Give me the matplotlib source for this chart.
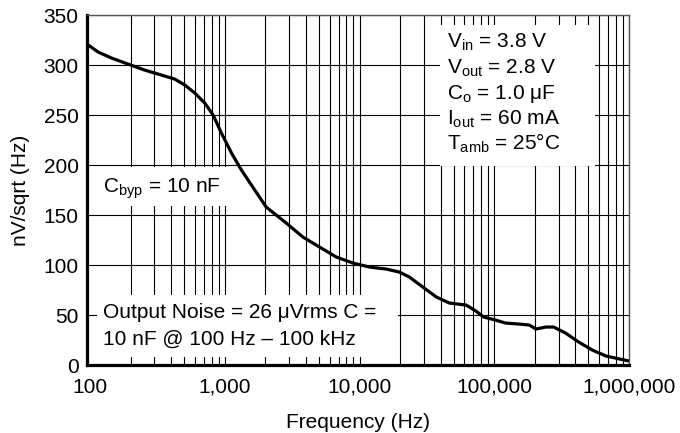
import matplotlib.pyplot as plt
from matplotlib.patches import Rectangle
from matplotlib.ticker import FixedLocator, NullFormatter

plt.rcParams['font.family'] = ['Liberation Sans', 'DejaVu Sans']
plt.rcParams['mathtext.fontset'] = 'custom'
plt.rcParams['mathtext.rm'] = 'Liberation Sans'
plt.rcParams['mathtext.it'] = 'Liberation Sans'
plt.rcParams['font.size'] = 15

# noise curve
freq = [95, 115, 145, 192, 255, 340, 426, 506, 600, 711, 820, 944, 1122,
        1330, 1670, 2030, 2860, 3800, 5050, 6730, 8930, 11870, 15770,
        19750, 23450, 29500, 37200, 46400, 61800, 73000, 83500, 102000,
        121000, 152000, 182000, 204000, 242000, 276000, 338000, 423000,
        533000, 676000, 853000, 1000000]
noise = [321, 313, 307, 301, 295, 290, 286, 280, 272, 262, 250, 232, 212,
         195, 175, 158, 142, 128, 118, 108, 102, 98, 96,
         93, 88, 78, 68, 62, 60, 54, 48, 45,
         42, 41, 40, 36, 38, 38, 32, 23,
         15, 9, 6, 4]

xticks = [100, 1000, 10000, 100000, 1000000]
xlabels = ['100', '1,000', '10,000', '100,000', '1,000,000']
yticks = [0, 50, 100, 150, 200, 250, 300, 350]

cond_lines = [r'V$_{\mathrm{in}}$ = 3.8 V',
              r'V$_{\mathrm{out}}$ = 2.8 V',
              r'C$_{\mathrm{o}}$ = 1.0 μF',
              r'I$_{\mathrm{out}}$ = 60 mA',
              r'T$_{\mathrm{amb}}$ = 25°C']
cbyp_text = r'C$_{\mathrm{byp}}$ = 10 nF'
noise_lines = ['Output Noise = 26 μVrms C =',
               '10 nF @ 100 Hz – 100 kHz']

fig = plt.figure(figsize=(6.8, 4.33), dpi=100)
ax = fig.add_axes([0.128, 0.157, 0.797, 0.808])

ax.set_xscale('log')
ax.set_xlim(95, 1000000)
ax.set_ylim(0, 350)

minor = [m * d for d in [100, 1000, 10000, 100000] for m in range(2, 10)]
ax.xaxis.set_major_locator(FixedLocator(xticks))
ax.xaxis.set_minor_locator(FixedLocator(minor))
ax.xaxis.set_minor_formatter(NullFormatter())
ax.set_xticks(xticks)
ax.set_xticklabels(xlabels)
ax.set_yticks(yticks)
ax.tick_params(which='both', length=0)
ax.tick_params(axis='x', pad=9)
ax.tick_params(axis='y', pad=6)

ax.grid(True, which='both', axis='x', color='black', lw=0.8)
ax.grid(True, which='major', axis='y', color='black', lw=0.8)
ax.set_axisbelow(True)
# the 100 Hz line sits under the thick left spine in the original
ax.xaxis.get_major_ticks()[0].gridline.set_visible(False)

for s in ['left', 'bottom']:
    ax.spines[s].set_linewidth(2.3)
for s in ['top', 'right']:
    ax.spines[s].set_linewidth(1.0)
    ax.spines[s].set_color('#555555')

# white boxes behind the annotations
for x0, y0, x1, y1 in [(0.651, 0.569, 0.937, 0.971),
                       (0.002, 0.454, 0.264, 0.566),
                       (0.018, 0.023, 0.574, 0.200)]:
    ax.add_patch(Rectangle((x0, y0), x1 - x0, y1 - y0, transform=ax.transAxes,
                           facecolor='white', edgecolor='none', zorder=1.5))

ax.plot(freq, noise, color='black', lw=2.3, zorder=3,
        solid_joinstyle='round', solid_capstyle='butt')

for i, t in enumerate(cond_lines):
    ax.text(0.664, (365 - (48 + 25.5 * i)) / 350, t, transform=ax.transAxes,
            va='baseline', ha='left', zorder=4)
ax.text(0.030, (365 - 193) / 350, cbyp_text, transform=ax.transAxes,
        va='baseline', ha='left', zorder=4)
for i, t in enumerate(noise_lines):
    ax.text(0.030, (365 - (318 + 27 * i)) / 350, t, transform=ax.transAxes,
            va='baseline', ha='left', zorder=4)

ax.set_xlabel('Frequency (Hz)', labelpad=12)
ax.set_ylabel('nV/sqrt (Hz)', labelpad=10)

fig.savefig('out.png', dpi=100)
